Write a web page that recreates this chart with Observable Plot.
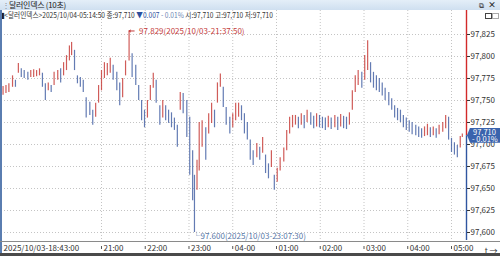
<!DOCTYPE html>
<html><head><meta charset="utf-8">
<script src="https://cdn.jsdelivr.net/npm/d3@7"></script>
<script src="https://cdn.jsdelivr.net/npm/@observablehq/plot@0.6"></script>
<style>
html,body{margin:0;padding:0;background:#fff;}
#wrap{position:relative;width:500px;height:256px;overflow:hidden;background:#fff;font-family:'Liberation Sans Narrow','Noto Sans CJK KR',sans-serif;}
#title{position:absolute;left:0;top:0;width:500px;height:10px;background:linear-gradient(#e4eef8,#cfdff0);font-size:8px;line-height:10px;color:#222;}
#info{position:absolute;left:1px;top:10px;height:10px;font-size:8px;line-height:10px;color:#333;white-space:nowrap;transform-origin:0 50%;}
#chart{position:absolute;left:0;top:10px;}
.abs{position:absolute;}
</style></head>
<body><div id="wrap">
<div id="title"><span class="abs" style="left:2px;color:#889">⋮</span><span class="abs" style="left:9px;letter-spacing:-0.3px">달러인덱스 (10초)</span><span class="abs" style="left:479px;font-size:7px;">⧉</span><span class="abs" style="left:488px;font-size:8px;font-weight:bold">×</span></div>
<div id="chart"></div>
<div id="info"><span style="color:#222">▮</span>&lt;달러인덱스&gt;2025/10/04-05:14:50 종:97,710 <span style="color:#2c4f9e">▼0.007</span> <span style="color:#6d86b3">- 0.01%</span> 시:97,710 고:97,710 저:97,710</div>
<div class="abs" style="left:485px;top:13px;width:5px;height:4px;border:1px solid #444;"></div>
<div class="abs" style="left:492px;top:13px;width:5px;height:4px;border:1px solid #aaa;"></div>
<div class="abs" style="left:0;top:10px;width:2px;height:243px;background:#5a7db0;"></div>
<div class="abs" style="left:0;top:241px;width:500px;height:0;border-top:1px solid #8a8a8a;"></div>
<div class="abs" style="left:0;top:253px;width:500px;height:3px;background:#4a4a4a;"></div>
<div id="pbox" class="abs" style="left:467px;width:33px;height:15px;background:#3a63ad;color:#fff;font-size:7.5px;line-height:7.5px;clip-path:polygon(3px 0,100% 0,100% 100%,3px 100%,0 50%);"><div style="padding-left:6px">97,710</div><div style="padding-left:5px">- 0.01%</div></div>
</div>
<script>
const times = ["18:45","18:49","18:53","18:58","19:02","19:06","19:10","19:14","19:19","19:23","19:27","19:31","19:35","19:39","19:43","19:47","19:51","19:55","20:00","20:04","20:08","20:12","20:16","20:19","20:23","20:27","20:31","20:35","20:39","20:44","20:48","20:52","20:56","21:00","21:04","21:08","21:12","21:16","21:21","21:25","21:29","21:33","21:37:50","21:42","21:47","21:51","21:55","21:59","22:03","22:07","22:11","22:15","22:20","22:24","22:28","22:32","22:36","22:40","22:44","22:48","22:52","22:57","23:01","23:05","23:07:30","23:11","23:14","23:18","23:23","23:27","23:31","23:35","23:39","23:43","23:47","23:51","23:56","00:00","00:04","00:08","00:12","00:16","00:20","00:24","00:28","00:33","00:37","00:41","00:45","00:49","00:53","00:57","01:01","01:05","01:10","01:14","01:18","01:22","01:26","01:30","01:34","01:38","01:42","01:47","01:51","01:55","01:59","02:03","02:07","02:11","02:15","02:20","02:24","02:28","02:32","02:36","02:40","02:44","02:48","02:52","02:57","03:01","03:05","03:09","03:13","03:17","03:21","03:25","03:29","03:34","03:38","03:42","03:46","03:50","03:54","03:58","04:02","04:06","04:11","04:15","04:19","04:23","04:27","04:31","04:35","04:39","04:43","04:48","04:52","04:56","05:00","05:04","05:08","05:12","05:14:50"];
const highs = [97.766,97.767,97.769,97.778,97.773,97.792,97.786,97.784,97.782,97.784,97.785,97.784,97.786,97.781,97.769,97.770,97.767,97.782,97.784,97.786,97.793,97.801,97.812,97.816,97.807,97.778,97.776,97.773,97.753,97.748,97.739,97.747,97.767,97.784,97.793,97.792,97.798,97.790,97.782,97.770,97.775,97.795,97.829,97.803,97.790,97.767,97.750,97.739,97.750,97.767,97.781,97.773,97.744,97.750,97.744,97.739,97.736,97.730,97.722,97.759,97.758,97.750,97.731,97.693,97.665,97.682,97.725,97.727,97.719,97.735,97.747,97.739,97.770,97.780,97.765,97.742,97.731,97.735,97.747,97.747,97.744,97.735,97.725,97.705,97.693,97.701,97.697,97.708,97.688,97.678,97.693,97.665,97.673,97.685,97.696,97.716,97.731,97.733,97.733,97.731,97.735,97.733,97.739,97.736,97.732,97.735,97.733,97.731,97.730,97.732,97.730,97.733,97.731,97.734,97.732,97.731,97.736,97.761,97.778,97.784,97.782,97.801,97.818,97.793,97.782,97.778,97.775,97.770,97.764,97.759,97.752,97.744,97.741,97.739,97.733,97.730,97.727,97.725,97.722,97.720,97.718,97.720,97.723,97.719,97.720,97.718,97.722,97.725,97.733,97.731,97.707,97.702,97.699,97.709,97.712];
const lows = [97.756,97.758,97.759,97.765,97.765,97.781,97.776,97.775,97.773,97.776,97.776,97.777,97.778,97.765,97.750,97.761,97.759,97.767,97.773,97.770,97.778,97.784,97.795,97.801,97.784,97.769,97.765,97.759,97.730,97.733,97.722,97.731,97.747,97.761,97.775,97.778,97.781,97.773,97.761,97.744,97.753,97.778,97.795,97.776,97.767,97.750,97.727,97.719,97.730,97.750,97.764,97.747,97.722,97.730,97.727,97.724,97.719,97.716,97.697,97.739,97.735,97.708,97.665,97.636,97.600,97.648,97.670,97.697,97.682,97.712,97.724,97.719,97.747,97.765,97.742,97.722,97.712,97.719,97.727,97.731,97.727,97.712,97.705,97.682,97.676,97.685,97.682,97.690,97.667,97.661,97.674,97.648,97.657,97.670,97.680,97.693,97.712,97.719,97.722,97.718,97.722,97.718,97.725,97.722,97.718,97.720,97.719,97.718,97.716,97.719,97.717,97.719,97.716,97.720,97.718,97.717,97.722,97.739,97.759,97.767,97.764,97.773,97.784,97.770,97.764,97.761,97.759,97.755,97.750,97.744,97.739,97.730,97.727,97.725,97.719,97.716,97.714,97.711,97.710,97.708,97.707,97.709,97.710,97.708,97.710,97.707,97.711,97.714,97.718,97.705,97.691,97.688,97.685,97.696,97.708];
const yTickValues = [97.600,97.625,97.650,97.675,97.700,97.725,97.750,97.775,97.800,97.825];
const hourLabels = ["21:00","22:00","23:00","00:00","01:00","02:00","03:00","04:00","05:00"];
const startLabel = "18:43:00";
const lastClose = 97.710;
const hiText = "97.829(2025/10/03-21:37:50)";
const loText = "97.600(2025/10/03-23:07:30)";

function toDate(s){const p=s.split(":").map(Number);const day=p[0]>=12?3:4;return new Date(2025,9,day,p[0],p[1],p[2]||0);}
const bars = times.map((t,i)=>({t:toDate(t),hi:highs[i],lo:lows[i]}));
bars.forEach((b,i)=>{const m=(b.hi+b.lo)/2;const pm=i?(bars[i-1].hi+bars[i-1].lo)/2:m;b.up=m>=pm;});
const hours = hourLabels.map(toDate);
const startDate = toDate(startLabel);
const xTicks = [startDate, ...hours];
const xDomain = [new Date(2025,9,3,18,42,52), new Date(2025,9,4,5,20,34)];
const yDomain = [97.59091, 97.85227];
const hiBar = bars.reduce((a,b)=>b.hi>a.hi?b:a);
const loBar = bars.reduce((a,b)=>b.lo<a.lo?b:a);
const fmtY = d=>d.toFixed(3).replace(".",",");
const fmtX = d=>{ if(+d===+startDate) return "2025/10/03-18:43:00"; if(d.getHours()===0) return "04-00"; return d3.timeFormat("%H:%M")(d);};
const red="#c8403c", blue="#4864a6";
const grid = {stroke:"#c4c4c4",strokeOpacity:1,strokeDasharray:"1,2"};
const chart = Plot.plot({
  width:500,height:246,marginTop:0,marginBottom:16,marginLeft:1,marginRight:34,
  style:{fontFamily:"'Liberation Sans Narrow','Noto Sans CJK KR',sans-serif",fontSize:"8px",color:"#333",background:"transparent",overflow:"visible"},
  x:{type:"time",domain:xDomain},
  y:{domain:yDomain},
  marks:[
    Plot.gridY(yTickValues,grid),
    Plot.gridX(hours,grid),
    Plot.ruleX(bars,{x:"t",y1:"lo",y2:"hi",stroke:d=>d.up?red:blue,strokeWidth:1.2,strokeOpacity:0.85}),
    Plot.ruleX([xDomain[1]],{y1:lastClose,y2:yDomain[1],stroke:"#d22a2a",strokeWidth:1.4}),
    Plot.ruleX([xDomain[1]],{y1:yDomain[0],y2:lastClose,stroke:"#2f55a0",strokeWidth:1.4}),
    Plot.axisY(yTickValues,{anchor:"right",tickSize:3,tickPadding:1,tickFormat:fmtY,fontSize:8,fill:"#333"}),
    Plot.axisX(xTicks,{anchor:"bottom",tickSize:0,tickPadding:5,textAnchor:"start",dx:2,tickFormat:fmtX,fontSize:8,fill:"#333"}),
    Plot.ruleX(xTicks,{x:d=>d,insetTop:236,insetBottom:-9,stroke:"#555"}),
    Plot.arrow([hiBar],{x1:d=>d3.timeMinute.offset(d.t,7),y1:"hi",x2:"t",y2:"hi",stroke:"#c43c3c",strokeWidth:1,headLength:4,bend:0}),
    Plot.text([hiBar],{x:"t",y:"hi",text:()=>hiText,dx:10,textAnchor:"start",fill:"#c43c3c",fontSize:8}),
    Plot.text([loBar],{x:"t",y:"lo",text:()=>"└"+loText,dx:-2,dy:4,textAnchor:"start",fill:"#5877a8",fontSize:8})
  ]
});
document.getElementById("chart").appendChild(chart);
const py = chart.scale("y").apply(lastClose)+10;
const pb = document.getElementById("pbox");
pb.style.top = (py-7.5)+"px";
const info = document.getElementById("info");
const w = info.getBoundingClientRect().width;
if (w > 272) info.style.transform = "scaleX(" + (272 / w) + ")";
</script>
</body></html>
